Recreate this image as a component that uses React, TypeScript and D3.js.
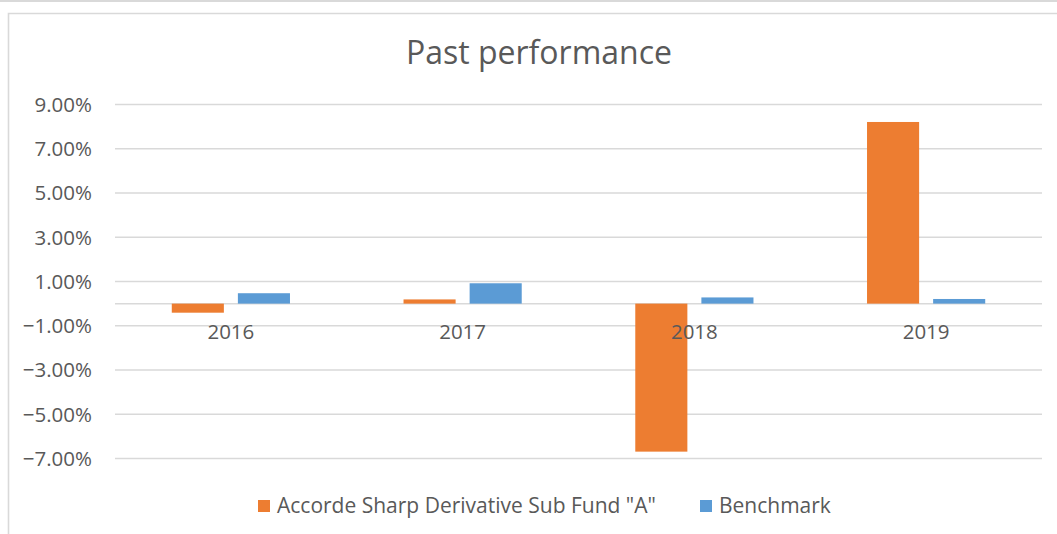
import React from "react";
import * as d3 from "d3";

const years = ["2016", "2017", "2018", "2019"];
const seriesNames = ["Accorde Sharp Derivative Sub Fund \"A\"", "Benchmark"];
const fundValues = [-0.41, 0.19, -6.69, 8.21];
const benchmarkValues = [0.47, 0.92, 0.28, 0.21];
const yTicks = [-7, -5, -3, -1, 1, 3, 5, 7, 9];
const colors = ["#ED7D31", "#5B9BD5"];

const W = 1057;
const H = 534;
const FONT = "'Open Sans', sans-serif";
const TEXT = "#595959";
const GRID = "#d9d9d9";

export default function App() {
  const x0 = d3.scaleBand<string>().domain(years).range([115, 1042]).padding(0);
  const bw = x0.bandwidth();
  const x1 = d3
    .scaleBand<string>()
    .domain(seriesNames)
    .range([bw * 0.245, bw * 0.755])
    .paddingInner(0.212)
    .paddingOuter(0);
  const y = d3.scaleLinear().domain([-7, 9]).range([458.5, 104.5]);

  const rows = years.map((yr, i) => ({ yr, vals: [fundValues[i], benchmarkValues[i]] }));
  const fmt = (v: number) => d3.format(".2f")(v) + "%";

  return (
    <svg
      width={W}
      height={H}
      style={{ position: "absolute", left: 0, top: 0, background: "#fff" }}
      fontFamily={FONT}
    >
      <rect x={0} y={0} width={W} height={2} fill={GRID} />
      <path d={`M8.5,${H} V13.5 H${W}`} fill="none" stroke={GRID} strokeWidth={1.6} />

      <text x={539} y={64} textAnchor="middle" fontSize={32} fill={TEXT}>
        Past performance
      </text>

      {yTicks.map((t) => (
        <g key={t}>
          <line x1={115} x2={1042} y1={y(t)} y2={y(t)} stroke={GRID} strokeWidth={1.5} />
          <text x={92} y={y(t)} dy="0.36em" textAnchor="end" fontSize={20.5} fill={TEXT}>
            {fmt(t)}
          </text>
        </g>
      ))}
      <line x1={115} x2={1042} y1={y(0)} y2={y(0)} stroke={GRID} strokeWidth={1.5} />

      {rows.map((r) => (
        <g key={r.yr} transform={`translate(${x0(r.yr)},0)`}>
          {r.vals.map((v, j) => (
            <rect
              key={j}
              x={x1(seriesNames[j])}
              width={x1.bandwidth()}
              y={y(Math.max(0, v))}
              height={Math.abs(y(v) - y(0))}
              fill={colors[j]}
            />
          ))}
          <text x={bw / 2} y={339} textAnchor="middle" fontSize={20.5} fill={TEXT}>
            {r.yr}
          </text>
        </g>
      ))}

      <g>
        <rect x={258} y={500} width={12} height={12} fill={colors[0]} />
        <text x={277} y={513} fontSize={21} fill={TEXT}>
          {seriesNames[0]}
        </text>
        <rect x={700} y={500} width={12} height={12} fill={colors[1]} />
        <text x={719} y={513} fontSize={21} fill={TEXT}>
          {seriesNames[1]}
        </text>
      </g>
    </svg>
  );
}
